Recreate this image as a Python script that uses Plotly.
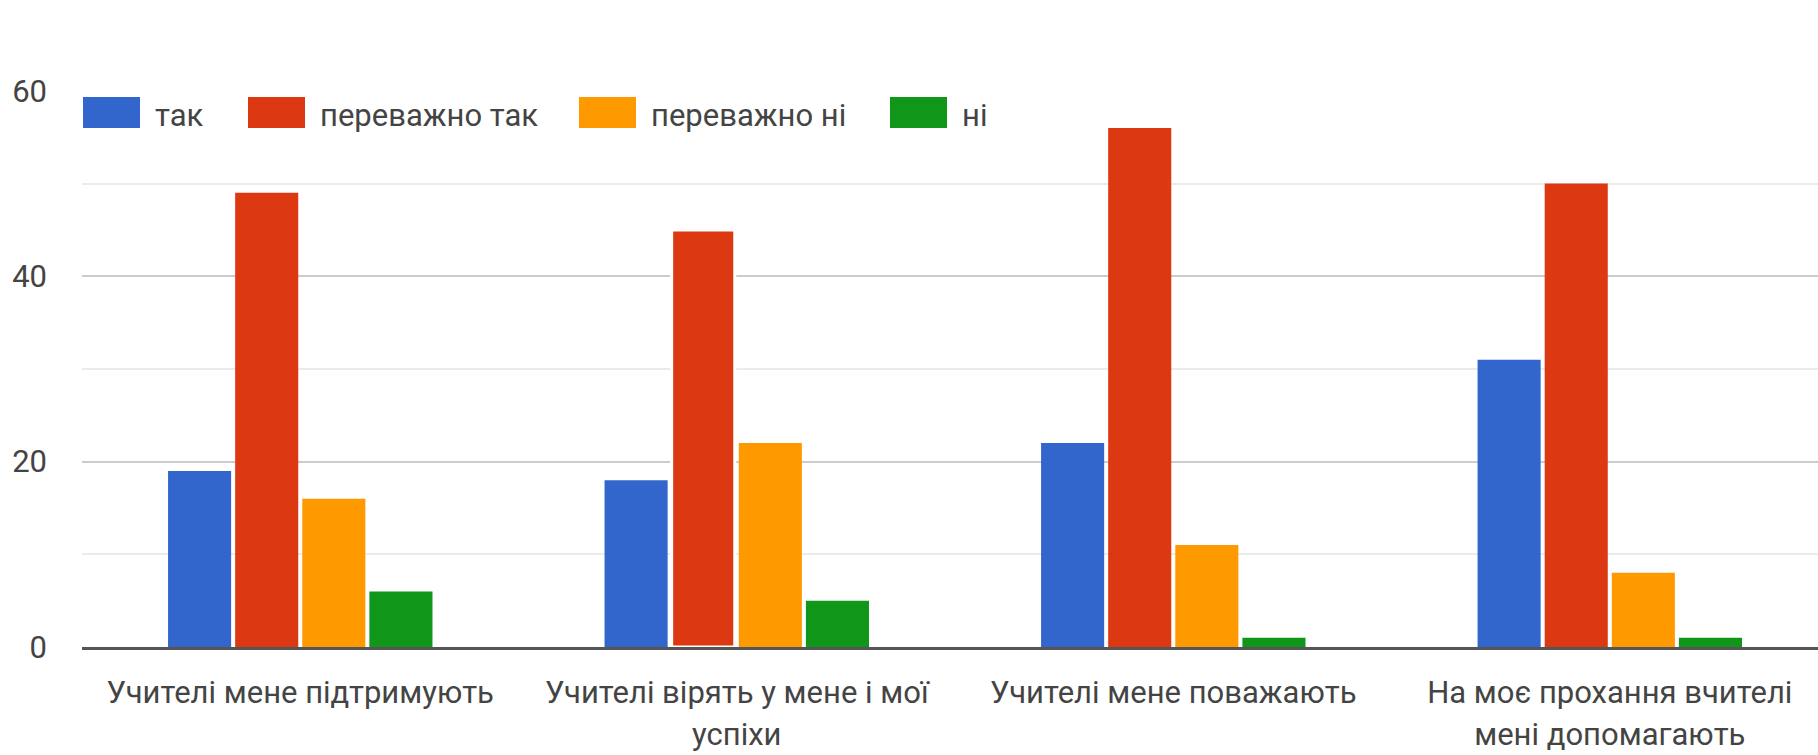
import plotly.graph_objects as go

# ---- data ----
categories = [
    "Учителі мене підтримують",
    "Учителі вірять у мене і мої<br>успіхи",
    "Учителі мене поважають",
    "На моє прохання вчителі<br>мені допомагають",
]
series_names = ["так", "переважно так", "переважно ні", "ні"]
tak = [19, 18, 22, 31]
perevazhno_tak = [49, 45, 56, 50]
perevazhno_ni = [16, 22, 11, 8]
ni = [6, 5, 1, 1]
y_ticks = [0, 20, 40, 60]

# ---- style ----
colors = ["#3366CC", "#DC3912", "#FF9900", "#109618"]
FONT = "Roboto, Liberation Sans, Arial, sans-serif"
W, H = 1818, 755
ML, MR, MT, MB = 82, 0, 90, 108
PW, PH = W - ML - MR, H - MT - MB
LABEL_PX = 31

def px_x(p):
    return (p - ML) / PW

def px_y(p):
    return (H - MB - p) / PH

fig = go.Figure()
all_values = [tak, perevazhno_tak, perevazhno_ni, ni]
for i, (name, vals, col) in enumerate(zip(series_names, all_values, colors)):
    lw = [0] * len(vals)
    if i == 1:
        lw[1] = 3  # highlighted (selected) bar outline
    fig.add_trace(go.Bar(
        name=name, x=list(range(len(categories))), y=vals,
        marker=dict(color=col, line=dict(color="white", width=lw)),
        showlegend=False,
    ))

tick_text = [
    "<br>".join(f'<span style="font-size:{LABEL_PX}px">{part}</span>' for part in c.split("<br>"))
    for c in categories
]

# manual legend (large swatches as in the reference)
leg_x = [83, 248, 579, 890]
shapes, annots = [], []
for x0, name, col in zip(leg_x, series_names, colors):
    shapes.append(dict(type="rect", xref="paper", yref="paper",
                       x0=px_x(x0), x1=px_x(x0 + 57), y0=px_y(128), y1=px_y(97),
                       fillcolor=col, line=dict(width=0), layer="above"))
    annots.append(dict(xref="paper", yref="paper", x=px_x(x0 + 70), y=px_y(115),
                       xanchor="left", yanchor="middle", text=name, showarrow=False,
                       font=dict(family=FONT, size=LABEL_PX, color="#444")))

fig.update_layout(
    width=W, height=H,
    margin=dict(l=ML, r=MR, t=MT, b=MB, pad=0, autoexpand=False),
    paper_bgcolor="white", plot_bgcolor="white",
    barmode="group", bargap=0.385, bargroupgap=0.06,
    font=dict(family=FONT, color="#444"),
    shapes=shapes, annotations=annots,
    xaxis=dict(
        tickmode="array", tickvals=list(range(len(categories))), ticktext=tick_text,
        range=[-0.5, 3.477], showgrid=False, zeroline=False,
        showline=True, linecolor="#555", linewidth=3,
        ticks="", tickangle=0, automargin=False,
        tickfont=dict(family=FONT, size=32, color="#444"),
        ticklabelstandoff=15, fixedrange=True,
    ),
    yaxis=dict(
        range=[0, 60.1], tickmode="array", tickvals=y_ticks,
        showgrid=True, gridcolor="#cccccc", gridwidth=2,
        minor=dict(dtick=10, tick0=0, showgrid=True, gridcolor="#ebebeb", gridwidth=1.5),
        zeroline=False, showline=False, ticks="", automargin=False,
        tickfont=dict(family=FONT, size=31, color="#444"),
        ticklabelstandoff=34, fixedrange=True,
    ),
)

fig.write_html("out.html", config={"displayModeBar": False},
               post_script="document.body.style.margin='0';")
